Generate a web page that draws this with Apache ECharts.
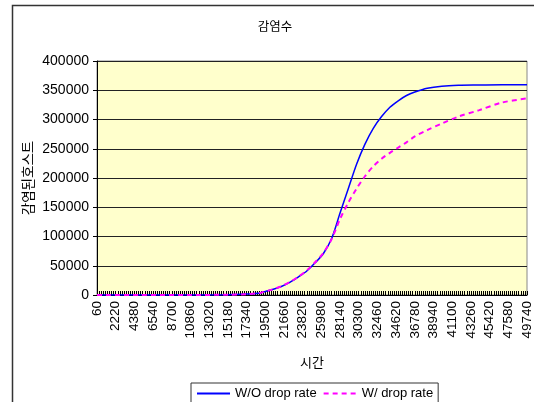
<!DOCTYPE html>
<html>
<head>
<meta charset="utf-8">
<script src="https://cdn.jsdelivr.net/npm/echarts@6/dist/echarts.min.js"></script>
<style>
  html, body { margin: 0; padding: 0; background: #fff; }
  #chart { width: 534px; height: 402px; }
</style>
</head>
<body>
<div id="chart"></div>
<script>
// time axis: samples every 240 s, labels every 2160 s
const timeStart = 60
const timeStep = 240
const timeCount = 208
const timeCategories = []
for (let i = 0; i < timeCount; i++) {
  timeCategories.push(String(timeStart + i * timeStep))
}

// values (time, infected hosts)
const noDropTimes = [60, 5100, 10140, 15180, 17340, 19020, 20220, 21420, 22380, 23340, 24300, 25260, 26220, 27180, 28140, 29100, 30060, 31020, 31980, 32940, 33900, 34860, 35820, 36780, 38220, 39900, 41820, 44220, 46860, 49740]
const noDropValues = [0, 0, 0, 500, 1500, 4000, 9000, 15000, 22000, 31000, 41000, 55000, 71000, 97000, 140000, 182000, 224000, 258000, 285000, 305000, 321000, 332000, 341000, 347000, 353500, 357000, 358500, 359000, 359500, 359500]

const dropTimes = [60, 5100, 10140, 15180, 17340, 19020, 20220, 21420, 22380, 23340, 24300, 25260, 26220, 27180, 28140, 29100, 30060, 31020, 31980, 32940, 33900, 34860, 35820, 36780, 38220, 39900, 41820, 44220, 46860, 49740]
const dropValues = [0, 0, 0, 500, 1500, 4000, 9000, 15500, 22500, 31500, 42000, 56000, 72000, 96000, 130000, 158000, 182000, 203000, 220000, 233000, 243000, 252000, 261000, 271000, 282000, 293000, 305000, 316000, 329000, 336000]

const yTicks = { min: 0, max: 400000, interval: 50000 }

const toPairs = (times, values) => times.map((t, i) => [String(t), values[i]])

const chart = echarts.init(document.getElementById('chart'), null, { renderer: 'canvas' })

const labelFont = '"Liberation Sans", Arial, sans-serif'
const koFont = '"Noto Sans CJK KR", sans-serif'

chart.setOption({
  animation: false,
  backgroundColor: '#ffffff',
  graphic: [{
    type: 'rect',
    shape: { x: 12.5, y: 5.5, width: 600, height: 500 },
    style: { fill: 'none', stroke: '#333', lineWidth: 1.5 },
    z: -1
  }],
  title: {
    text: '감염수',
    left: 270,
    top: 15,
    textAlign: 'center',
    textStyle: { fontFamily: koFont, fontSize: 12.5, fontWeight: 'normal', color: '#000' }
  },
  legend: {
    left: 191,
    top: 383,
    padding: [4, 5],
    itemWidth: 33,
    itemHeight: 10,
    itemGap: 6,
    borderColor: '#333',
    borderWidth: 1,
    backgroundColor: '#fff',
    itemStyle: { opacity: 0 },
    textStyle: { fontFamily: labelFont, fontSize: 13, color: '#000' }
  },
  grid: {
    left: 97,
    right: 7,
    top: 61,
    bottom: 107,
    show: true,
    backgroundColor: '#FFFFCC',
    borderColor: '#888',
    borderWidth: 1
  },
  xAxis: {
    type: 'category',
    data: timeCategories,
    boundaryGap: false,
    name: '시간',
    nameLocation: 'middle',
    nameGap: 61,
    nameTextStyle: { fontFamily: koFont, fontSize: 13, color: '#000' },
    axisLine: { lineStyle: { color: '#000', width: 1 } },
    axisTick: { inside: true, length: 4, interval: 0, lineStyle: { color: '#000' } },
    axisLabel: {
      interval: 8,
      rotate: 90,
      margin: 6,
      fontFamily: labelFont,
      fontSize: 13.5,
      color: '#000'
    },
    splitLine: { show: false }
  },
  yAxis: {
    type: 'value',
    min: yTicks.min,
    max: yTicks.max,
    interval: yTicks.interval,
    name: '감염된호스트',
    nameLocation: 'middle',
    nameGap: 62,
    nameMoveOverlap: false,
    nameRotate: 90,
    nameTextStyle: { fontFamily: koFont, fontSize: 13.5, color: '#000' },
    axisLine: { show: true, lineStyle: { color: '#000', width: 1 } },
    axisTick: { show: true, length: 4, lineStyle: { color: '#000' } },
    axisLabel: {
      margin: 8,
      fontFamily: labelFont,
      fontSize: 14,
      color: '#000',
      formatter: v => String(v)
    },
    splitLine: { lineStyle: { color: '#222', width: 1 } }
  },
  series: [
    {
      name: 'W/O drop rate',
      type: 'line',
      data: toPairs(noDropTimes, noDropValues),
      symbol: 'none',
      smooth: 0.3,
      lineStyle: { color: '#0000FF', width: 1.5 },
      itemStyle: { color: '#0000FF' }
    },
    {
      name: 'W/ drop rate',
      type: 'line',
      data: toPairs(dropTimes, dropValues),
      symbol: 'none',
      smooth: 0.3,
      lineStyle: { color: '#FF00FF', width: 2, type: [5, 4] },
      itemStyle: { color: '#FF00FF' }
    }
  ]
})
</script>
</body>
</html>
